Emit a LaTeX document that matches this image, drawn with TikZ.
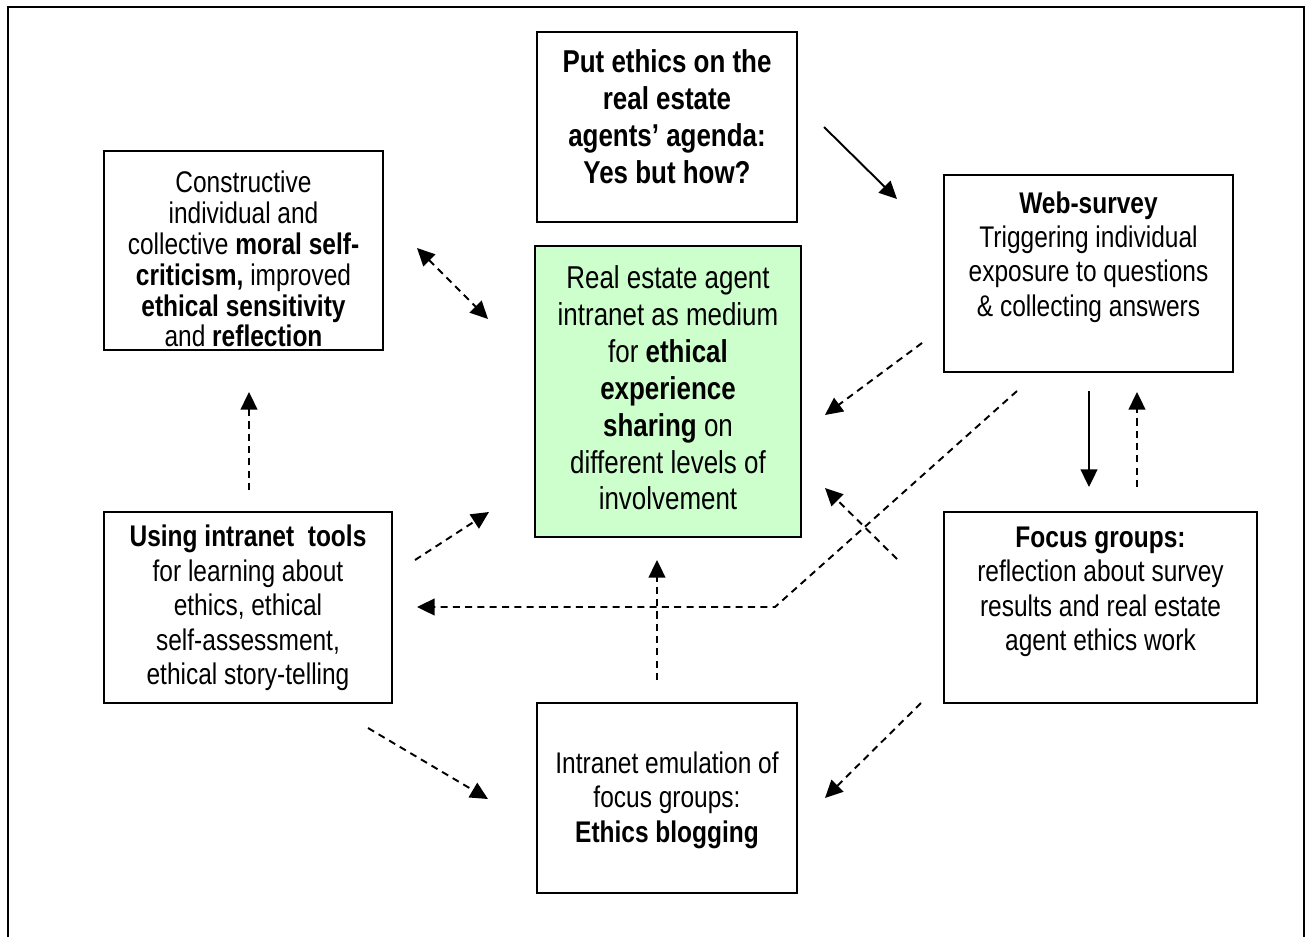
\documentclass[tikz,border=0pt]{standalone}
\usepackage{fontspec}
\setmainfont[FakeStretch=0.82]{Liberation Sans}
\usetikzlibrary{arrows.meta, positioning}
\definecolor{mPaleGreen}{HTML}{CCFFCC}

\begin{document}
\begin{tikzpicture}[x=0.02cm, y=-0.02cm,
    box/.style={draw, line width=1.1pt, inner sep=0pt},
    txt/.style={align=center, inner sep=0pt, font=\fontsize{17}{19.6}\selectfont},
    bigtxt/.style={align=center, inner sep=0pt, font=\fontsize{18}{21}\selectfont},
    flow/.style={line width=1.1pt, -{Triangle[length=10pt, width=9.5pt]}},
    dflow/.style={flow, dash pattern=on 4pt off 3pt}]
  \useasboundingbox (0,0) rectangle (1309,937);
  \draw[line width=1.1pt] (8,937) -- (8,7) -- (1304,7) -- (1304,937);

  % boxes
  \node[box, minimum width=5.2cm, minimum height=3.8cm] (ethics) at (667,127) {};
  \node[box, minimum width=5.58cm, minimum height=3.98cm] (moral) at (243.5,250.5) {};
  \node[box, fill=mPaleGreen, minimum width=5.32cm, minimum height=5.82cm] (intranet) at (668,391.5) {};
  \node[box, minimum width=5.78cm, minimum height=3.94cm] (survey) at (1088.5,273.5) {};
  \node[box, minimum width=6.26cm, minimum height=3.82cm] (focus) at (1100.5,607.5) {};
  \node[box, minimum width=5.76cm, minimum height=3.82cm] (tools) at (248,607.5) {};
  \node[box, minimum width=5.2cm, minimum height=3.8cm] (blog) at (667,798) {};

  % texts
  \node[bigtxt] (ethics text) at (667,117) {\textbf{Put ethics on the}\\\textbf{real estate}\\\textbf{agents’ agenda:}\\\textbf{Yes but how?}};
  \node[txt, font=\fontsize{17}{17.6}\selectfont] (moral text) at (243.5,259) {Constructive\\individual and\\collective \textbf{moral self-}\\\textbf{criticism,} improved\\\textbf{ethical sensitivity}\\and \textbf{reflection}};
  \node[bigtxt] (intranet text) at (668,388) {Real estate agent\\intranet as medium\\for \textbf{ethical}\\\textbf{experience}\\\textbf{sharing} on\\different levels of\\involvement};
  \node[txt] (survey text) at (1088.5,257) {\textbf{Web-survey}\\Triggering individual\\exposure to questions\\\& collecting answers};
  \node[txt] (focus text) at (1100.5,592) {\textbf{Focus groups:}\\reflection about survey\\results and real estate\\agent ethics work};
  \node[txt] (tools text) at (248,608) {\textbf{Using intranet\ \ tools}\\for learning about\\ethics, ethical\\self-assessment,\\ethical story-telling};
  \node[txt] (blog text) at (667,800) {Intranet emulation of\\focus groups:\\\textbf{Ethics blogging}};

  % connector ends
  \coordinate (ethics out) at (824,127);
  \coordinate (survey in) at (897,199);
  \coordinate (moral end) at (417,248);
  \coordinate (intranet nw) at (488,319);
  \coordinate (survey out) at (922,343);
  \coordinate (intranet ne) at (825,415);
  \coordinate (survey down) at (1089,391);
  \coordinate (focus in) at (1089,487);
  \coordinate (focus up) at (1137,487);
  \coordinate (survey back) at (1137,392);
  \coordinate (tools up) at (249,490);
  \coordinate (moral in) at (249,392);
  \coordinate (tools out) at (415,560);
  \coordinate (intranet sw) at (489,512);
  \coordinate (survey long) at (1017,391);
  \coordinate (bend) at (775,607);
  \coordinate (tools in) at (417,607);
  \coordinate (focus out) at (897,559);
  \coordinate (intranet se) at (825,488);
  \coordinate (blog up) at (657,680);
  \coordinate (intranet s) at (657,560);
  \coordinate (tools down) at (368,728);
  \coordinate (blog nw) at (488,799);
  \coordinate (focus down) at (921,703);
  \coordinate (blog ne) at (825,798);

  % arrows
  \draw[flow] (ethics out) -- (survey in);
  \draw[flow] (survey down) -- (focus in);
  \draw[dflow, {Triangle[length=10pt, width=9.5pt]}-{Triangle[length=10pt, width=9.5pt]}] (moral end) -- (intranet nw);
  \draw[dflow] (survey out) -- (intranet ne);
  \draw[dflow] (focus up) -- (survey back);
  \draw[dflow] (tools up) -- (moral in);
  \draw[dflow] (tools out) -- (intranet sw);
  \draw[dflow] (survey long) -- (bend) -- (tools in);
  \draw[dflow] (focus out) -- (intranet se);
  \draw[dflow] (blog up) -- (intranet s);
  \draw[dflow] (tools down) -- (blog nw);
  \draw[dflow] (focus down) -- (blog ne);
\end{tikzpicture}
\end{document}
